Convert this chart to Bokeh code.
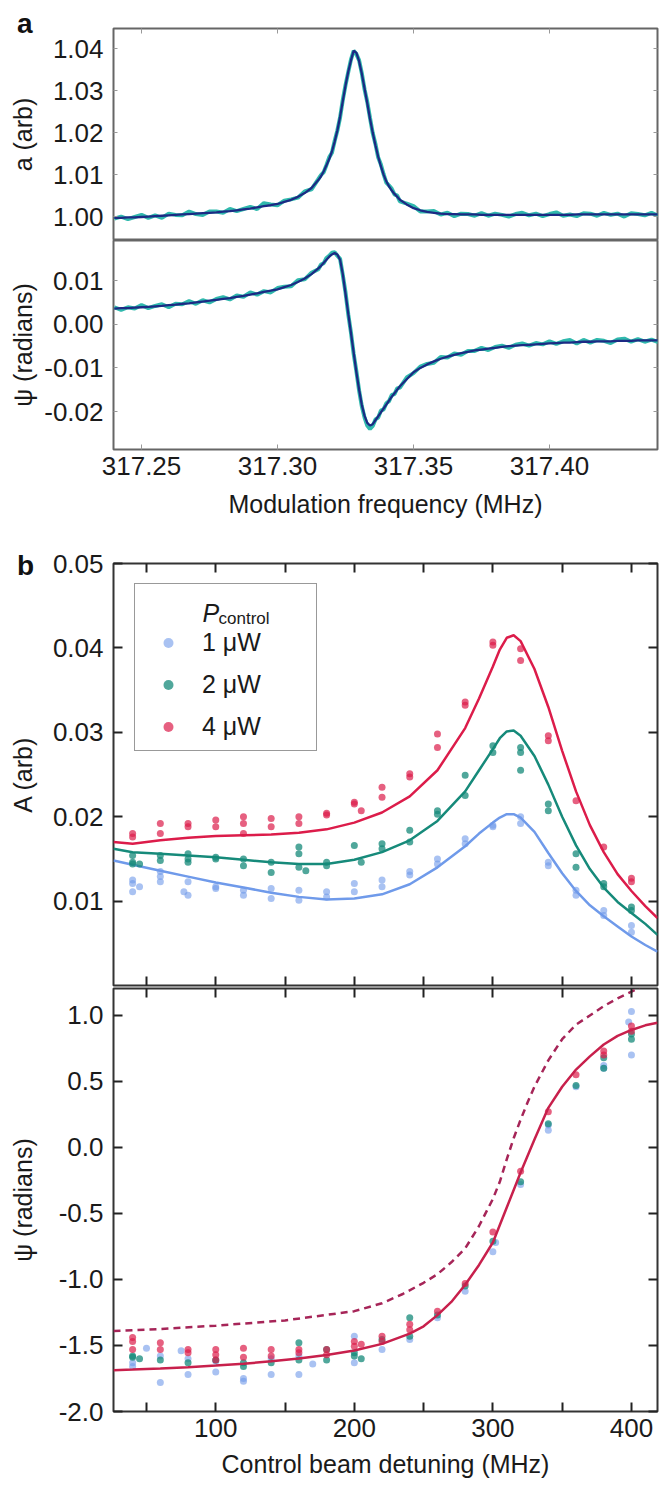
from bokeh.plotting import figure
from bokeh.layouts import column
from bokeh.models import (Range1d, FixedTicker, LinearAxis, Legend, Div,
                          LegendItem, NumeralTickFormatter)
from bokeh.embed import file_html
from bokeh.resources import INLINE
from bokeh.core.properties import value

# ---------------- panel a data ----------------
freq = [317.2400, 317.2425, 317.2450, 317.2475, 317.2500, 317.2525, 317.2550, 317.2575,
        317.2600, 317.2625, 317.2650, 317.2675, 317.2700, 317.2725, 317.2750, 317.2775,
        317.2800, 317.2825, 317.2850, 317.2875, 317.2900, 317.2925, 317.2950, 317.2975,
        317.3000, 317.3025, 317.3050, 317.3075, 317.3100, 317.3125, 317.3150,
        317.316, 317.317, 317.318, 317.319, 317.320, 317.321, 317.322, 317.323, 317.324,
        317.325, 317.326, 317.327, 317.328, 317.329, 317.330, 317.331, 317.332, 317.333,
        317.334, 317.335, 317.336, 317.337, 317.338, 317.339, 317.340, 317.341, 317.342,
        317.343, 317.344, 317.345,
        317.3475, 317.3500, 317.3525, 317.3550, 317.3575, 317.3600, 317.3625, 317.3650,
        317.3675, 317.3700, 317.3725, 317.3750, 317.3775, 317.3800, 317.3825, 317.3850,
        317.3875, 317.3900, 317.3925, 317.3950, 317.3975, 317.4000, 317.4025, 317.4050,
        317.4075, 317.4100, 317.4125, 317.4150, 317.4175, 317.4200, 317.4225, 317.4250,
        317.4275, 317.4300, 317.4325, 317.4350, 317.4375, 317.4400]

a_fit = [0.9997, 0.9997, 0.9998, 0.9998, 0.9999, 1.0000, 1.0001, 1.0002,
         1.0003, 1.0004, 1.0005, 1.0006, 1.0007, 1.0008, 1.0009, 1.0010,
         1.0012, 1.0013, 1.0015, 1.0017, 1.0019, 1.0022, 1.0025, 1.0027,
         1.0030, 1.0035, 1.0040, 1.0047, 1.0056, 1.0068, 1.0087,
         1.0096, 1.0108, 1.0122, 1.0137, 1.0155, 1.0178, 1.0205, 1.0238, 1.0275,
         1.0312, 1.0345, 1.0372, 1.0395, 1.0390, 1.0370, 1.0340, 1.0305, 1.0270,
         1.0233, 1.0200, 1.0170, 1.0143, 1.0120, 1.0100, 1.0084, 1.0072, 1.0062,
         1.0054, 1.0047, 1.0040,
         1.0029, 1.0020, 1.0015, 1.0011, 1.0009, 1.0007, 1.0006, 1.0006,
         1.0005, 1.0005, 1.0005, 1.0004, 1.0004, 1.0004, 1.0004, 1.0004,
         1.0004, 1.0004, 1.0004, 1.0004, 1.0004, 1.0004, 1.0004, 1.0004,
         1.0004, 1.0005, 1.0005, 1.0005, 1.0005, 1.0005, 1.0005, 1.0005,
         1.0005, 1.0005, 1.0005, 1.0005, 1.0005, 1.0005]

a_data = [0.9995, 1.0000, 0.9994, 0.9999, 1.0004, 0.9997, 1.0003, 0.9997,
          1.0007, 1.0004, 1.0003, 1.0012, 1.0006, 1.0004, 1.0012, 1.0012,
          1.0009, 1.0018, 1.0013, 1.0018, 1.0023, 1.0018, 1.0032, 1.0029,
          1.0027, 1.0038, 1.0041, 1.0045, 1.0060, 1.0065, 1.0089,
          1.0099, 1.0106, 1.0123, 1.0141, 1.0152, 1.0180, 1.0205, 1.0236, 1.0278,
          1.0313, 1.0344, 1.0374, 1.0395, 1.0387, 1.0372, 1.0341, 1.0303, 1.0273,
          1.0235, 1.0199, 1.0173, 1.0141, 1.0124, 1.0101, 1.0081, 1.0074, 1.0066,
          1.0053, 1.0050, 1.0036,
          1.0031, 1.0025, 1.0012, 1.0012, 1.0013, 1.0005, 1.0009, 1.0001,
          1.0007, 1.0006, 1.0002, 1.0008, 1.0002, 1.0007, 1.0004, 1.0000,
          1.0006, 1.0009, 1.0003, 1.0007, 1.0001, 1.0006, 1.0010, 1.0002,
          1.0005, 1.0001, 1.0008, 1.0007, 1.0002, 1.0009, 1.0004, 1.0007,
          1.0000, 1.0008, 1.0006, 1.0003, 1.0009, 1.0002]

psi_a_fit = [0.0036, 0.0037, 0.0037, 0.0038, 0.0039, 0.0040, 0.0041, 0.0042,
             0.0044, 0.0045, 0.0047, 0.0048, 0.0050, 0.0052, 0.0054, 0.0056,
             0.0058, 0.0060, 0.0063, 0.0065, 0.0068, 0.0071, 0.0074, 0.0077,
             0.0080, 0.0085, 0.0090, 0.0097, 0.0105, 0.0115, 0.0128,
             0.0134, 0.0141, 0.0148, 0.0155, 0.0160, 0.0163, 0.0160, 0.0148, 0.0115,
             0.0070, 0.0025, -0.0020, -0.0065, -0.0110, -0.0150, -0.0185, -0.0210, -0.0226,
             -0.0232, -0.0229, -0.0220, -0.0211, -0.0202, -0.0193, -0.0184, -0.0175, -0.0166,
             -0.0158, -0.0150, -0.0142,
             -0.0126, -0.0110, -0.0100, -0.0092, -0.0085, -0.0079, -0.0074, -0.0070,
             -0.0066, -0.0063, -0.0060, -0.0058, -0.0056, -0.0054, -0.0052, -0.0050,
             -0.0049, -0.0048, -0.0047, -0.0046, -0.0045, -0.0044, -0.0043, -0.0042,
             -0.0042, -0.0041, -0.0040, -0.0040, -0.0039, -0.0039, -0.0039, -0.0038,
             -0.0038, -0.0038, -0.0037, -0.0037, -0.0037, -0.0037]

psi_a_data = [0.0039, 0.0033, 0.0039, 0.0036, 0.0044, 0.0037, 0.0042, 0.0046,
              0.0039, 0.0047, 0.0046, 0.0053, 0.0047, 0.0055, 0.0050, 0.0058,
              0.0062, 0.0057, 0.0066, 0.0063, 0.0073, 0.0068, 0.0076, 0.0073,
              0.0083, 0.0086, 0.0087, 0.0101, 0.0103, 0.0118, 0.0126,
              0.0137, 0.0140, 0.0152, 0.0157, 0.0164, 0.0165, 0.0157, 0.0150, 0.0113,
              0.0073, 0.0023, -0.0019, -0.0068, -0.0108, -0.0152, -0.0188, -0.0214, -0.0232,
              -0.0240, -0.0233, -0.0218, -0.0214, -0.0198, -0.0195, -0.0181, -0.0176, -0.0162,
              -0.0160, -0.0147, -0.0145,
              -0.0122, -0.0112, -0.0097, -0.0091, -0.0088, -0.0075, -0.0076, -0.0067,
              -0.0070, -0.0061, -0.0061, -0.0054, -0.0059, -0.0052, -0.0049, -0.0054,
              -0.0047, -0.0044, -0.0049, -0.0043, -0.0046, -0.0039, -0.0045, -0.0039,
              -0.0036, -0.0044, -0.0036, -0.0042, -0.0036, -0.0038, -0.0043, -0.0035,
              -0.0033, -0.0040, -0.0034, -0.0040, -0.0035, -0.0041]

freq_ticks = [317.25, 317.30, 317.35, 317.40]
amp_ticks = [1.00, 1.01, 1.02, 1.03, 1.04]
psi_a_ticks = [-0.02, -0.01, 0.00, 0.01]

# ---------------- panel b data ----------------
det_fit = [26.2, 40, 60, 80, 100, 120, 140, 160, 180, 200, 220, 240, 260, 280, 290, 300,
           305, 310, 315, 320, 330, 340, 350, 360, 370, 380, 390, 400, 410, 418.8]
A_fit_1uW = [0.0148, 0.0143, 0.0136, 0.0129, 0.0122, 0.0116, 0.0110, 0.0105, 0.0102, 0.0103,
             0.0108, 0.0120, 0.0140, 0.0165, 0.0180, 0.0193, 0.0199, 0.0203, 0.0203, 0.0199,
             0.0182, 0.0157, 0.0133, 0.0112, 0.0095, 0.0082, 0.0070, 0.0058, 0.0048, 0.0040]
A_fit_2uW = [0.0162, 0.0158, 0.0156, 0.0154, 0.0152, 0.0149, 0.0146, 0.0144, 0.0144, 0.0149,
             0.0158, 0.0172, 0.0195, 0.0230, 0.0255, 0.0280, 0.0293, 0.0301, 0.0302, 0.0296,
             0.0272, 0.0238, 0.0200, 0.0166, 0.0138, 0.0116, 0.0099, 0.0086, 0.0073, 0.0060]
A_fit_4uW = [0.0170, 0.0168, 0.0172, 0.0175, 0.0177, 0.0178, 0.0179, 0.0181, 0.0185, 0.0193,
             0.0205, 0.0224, 0.0255, 0.0305, 0.0340, 0.0378, 0.0398, 0.0412, 0.0415, 0.0408,
             0.0375, 0.0330, 0.0278, 0.0230, 0.0190, 0.0158, 0.0132, 0.0112, 0.0094, 0.0080]

det_psi_fit = [26.2, 40, 60, 80, 100, 120, 140, 160, 180, 200, 220, 240, 250, 260, 270, 280,
               290, 300, 310, 320, 330, 340, 350, 360, 370, 380, 390, 400, 410, 418.8]
psi_fit = [-1.687, -1.682, -1.674, -1.664, -1.652, -1.638, -1.620, -1.598, -1.572, -1.538,
           -1.488, -1.410, -1.355, -1.270, -1.170, -1.040, -0.890, -0.720, -0.455, -0.190,
           0.060, 0.300, 0.460, 0.590, 0.690, 0.780, 0.845, 0.890, 0.925, 0.945]
det_psi_dash = [26.2, 60, 100, 150, 200, 220, 235, 250, 260, 270, 280, 290, 300, 305, 310,
                315, 320, 325, 330, 340, 350, 360, 370, 380, 390, 400, 406]
psi_dash = [-1.390, -1.375, -1.350, -1.310, -1.240, -1.180, -1.110, -1.025, -0.960, -0.870,
            -0.765, -0.595, -0.390, -0.260, -0.090, 0.070, 0.210, 0.340, 0.460, 0.660,
            0.820, 0.930, 1.000, 1.070, 1.130, 1.180, 1.210]

det_A_1uW = [40, 40, 40, 45, 60, 60, 60, 77, 80, 80, 100, 100, 120, 120, 140, 140, 160, 160,
             180, 180, 200, 200, 220, 220, 240, 240, 260, 260, 280, 280, 300, 300, 320, 320,
             340, 340, 360, 360, 380, 380, 400, 400]
A_1uW = [0.0125, 0.0121, 0.0111, 0.0117, 0.0135, 0.0129, 0.0123, 0.0111, 0.0123, 0.0107,
         0.0117, 0.0115, 0.0113, 0.0107, 0.0115, 0.0103, 0.0113, 0.0101, 0.0111, 0.0105,
         0.0121, 0.0111, 0.0125, 0.0117, 0.0135, 0.0131, 0.0150, 0.0144, 0.0174, 0.0168,
         0.0190, 0.0188, 0.0200, 0.0192, 0.0146, 0.0142, 0.0113, 0.0107, 0.0089, 0.0083,
         0.0071, 0.0063]
det_A_2uW = [40, 40, 40, 45, 60, 60, 80, 80, 80, 100, 100, 120, 120, 140, 140, 160, 160, 160,
             165, 180, 180, 200, 205, 220, 220, 240, 240, 260, 260, 280, 280, 300, 300, 320,
             320, 320, 340, 340, 360, 360, 380, 380, 400, 400]
A_2uW = [0.0154, 0.0146, 0.0144, 0.0144, 0.0154, 0.0148, 0.0156, 0.0150, 0.0146, 0.0152,
         0.0150, 0.0150, 0.0142, 0.0146, 0.0134, 0.0164, 0.0156, 0.0140, 0.0136, 0.0146,
         0.0142, 0.0166, 0.0146, 0.0168, 0.0162, 0.0184, 0.0170, 0.0207, 0.0203, 0.0249,
         0.0225, 0.0284, 0.0276, 0.0282, 0.0276, 0.0255, 0.0215, 0.0207, 0.0156, 0.0140,
         0.0121, 0.0117, 0.0093, 0.0089]
det_A_4uW = [40, 40, 60, 60, 80, 80, 100, 100, 120, 120, 120, 140, 140, 160, 160, 180, 180,
             200, 200, 205, 220, 220, 240, 240, 260, 260, 280, 280, 300, 300, 320, 320, 340,
             340, 360, 380, 400, 400]
A_4uW = [0.0180, 0.0176, 0.0192, 0.0180, 0.0192, 0.0188, 0.0196, 0.0188, 0.0200, 0.0192,
         0.0180, 0.0198, 0.0188, 0.0200, 0.0192, 0.0204, 0.0202, 0.0217, 0.0215, 0.0207,
         0.0235, 0.0223, 0.0251, 0.0247, 0.0298, 0.0282, 0.0336, 0.0332, 0.0407, 0.0403,
         0.0399, 0.0385, 0.0296, 0.0290, 0.0219, 0.0164, 0.0127, 0.0123]

det_psi_1uW = [40, 40, 50, 60, 60, 75, 80, 80, 100, 100, 120, 120, 140, 140, 160, 160, 170,
               200, 200, 220, 240, 260, 280, 300, 302, 320, 340, 340, 360, 380, 380, 400, 400,
               398]
psi_1uW = [-1.63, -1.66, -1.52, -1.78, -1.58, -1.54, -1.72, -1.60, -1.70, -1.62, -1.75, -1.77,
           -1.72, -1.60, -1.72, -1.58, -1.64, -1.43, -1.63, -1.53, -1.455, -1.29, -1.09, -0.79,
           -0.72, -0.28, 0.13, 0.17, 0.46, 0.60, 0.62, 1.03, 0.70, 0.95]
det_psi_2uW = [40, 40, 45, 60, 80, 100, 120, 120, 140, 160, 160, 180, 180, 200, 200, 205, 220,
               240, 240, 260, 280, 300, 320, 340, 360, 380, 380, 400, 400]
psi_2uW = [-1.58, -1.59, -1.60, -1.61, -1.63, -1.61, -1.63, -1.66, -1.63, -1.48, -1.61, -1.53,
           -1.61, -1.555, -1.58, -1.60, -1.455, -1.29, -1.43, -1.27, -1.05, -0.71, -0.26, 0.18,
           0.47, 0.68, 0.60, 0.86, 0.82]
det_psi_4uW = [40, 40, 40, 60, 60, 80, 80, 100, 100, 100, 120, 120, 140, 140, 160, 160, 180,
               180, 200, 200, 205, 220, 220, 240, 240, 260, 280, 300, 320, 340, 360, 380, 380,
               400, 400]
psi_4uW = [-1.44, -1.47, -1.53, -1.48, -1.53, -1.53, -1.555, -1.53, -1.57, -1.61, -1.52, -1.59,
           -1.53, -1.58, -1.53, -1.555, -1.53, -1.57, -1.47, -1.505, -1.49, -1.43, -1.47, -1.34,
           -1.38, -1.24, -1.03, -0.64, -0.18, 0.27, 0.55, 0.73, 0.70, 0.92, 0.88]

det_ticks = [50, 100, 150, 200, 250, 300, 350, 400]
det_labels = {50: "", 100: "100", 150: "", 200: "200", 250: "", 300: "300", 350: "", 400: "400"}
A_ticks = [0.01, 0.02, 0.03, 0.04, 0.05]
psi_b_ticks = [-2.0, -1.5, -1.0, -0.5, 0.0, 0.5, 1.0]
legend_labels = ["1 μW", "2 μW", "4 μW"]
panel_letters = ["a", "b"]

# ---------------- styling ----------------
FONT = "Liberation Sans"
TXT = "#1a1a1a"
W = 659
C_CYAN = "#30b9ad"
C_NAVY = "#1c2a84"
C_BLUE = "#6f9aea"
C_TEAL = "#168a7a"
C_RED = "#dc1c4a"
C_PSI = "#c8204c"
C_DASH = "#a62558"
TICK_A = "#999999"


def base_fig(height, xr, yr, top, bottom, outline):
    p = figure(width=W, height=height, x_range=Range1d(*xr), y_range=Range1d(*yr),
               output_backend="svg", toolbar_location=None,
               x_axis_location=None, y_axis_location=None,
               min_border_left=113, min_border_right=2,
               min_border_top=top, min_border_bottom=bottom)
    p.grid.visible = False
    p.outline_line_color = outline
    p.outline_line_width = 2
    p.background_fill_color = "white"
    p.border_fill_color = "white"
    return p


def add_axis(p, side, ticks, show, tick_len, tick_color, tick_w, fmt=None,
             overrides=None, label=None, label_standoff=10, axis_standoff=10):
    ax = LinearAxis(ticker=FixedTicker(ticks=ticks))
    ax.axis_line_color = None
    ax.major_tick_in = tick_len
    ax.major_tick_out = 0
    ax.minor_tick_in = 0
    ax.minor_tick_out = 0
    ax.major_tick_line_color = tick_color
    ax.major_tick_line_width = tick_w
    if show:
        ax.major_label_text_font = FONT
        ax.major_label_text_font_size = "26px"
        ax.major_label_text_color = TXT
        ax.major_label_standoff = label_standoff
        if fmt:
            ax.formatter = NumeralTickFormatter(format=fmt)
        if overrides:
            ax.major_label_overrides = overrides
    else:
        ax.major_label_overrides = {t: "" for t in ticks}
        ax.major_label_text_font_size = "1px"
        ax.major_label_standoff = 0
    if label:
        ax.axis_label = label
        ax.axis_label_text_font = FONT
        ax.axis_label_text_font_size = "25px"
        ax.axis_label_text_font_style = "normal"
        ax.axis_label_text_color = TXT
        ax.axis_label_standoff = axis_standoff
    p.add_layout(ax, side)
    return ax


XR_A = (317.2397, 317.4397)
XR_B = (26.2, 418.8)

# ---- panel a, amplitude ----
p1 = base_fig(240, XR_A, (0.9943, 1.0448), 28, 0, "#666666")
add_axis(p1, "left", amp_ticks, True, 4, TICK_A, 1, fmt="0.00",
         label="a (arb)", axis_standoff=13)
add_axis(p1, "right", amp_ticks, False, 4, TICK_A, 1)
add_axis(p1, "above", freq_ticks, False, 5, TICK_A, 1)
p1.line(freq, a_data, line_color=C_CYAN, line_width=4)
p1.line(freq, a_fit, line_color=C_NAVY, line_width=2.3)

# ---- panel a, phase ----
p2 = base_fig(290, XR_A, (-0.0287, 0.0192), 0, 81, "#666666")
add_axis(p2, "left", psi_a_ticks, True, 4, TICK_A, 1, fmt="0.00",
         label="ψ (radians)", axis_standoff=4)
add_axis(p2, "right", psi_a_ticks, False, 4, TICK_A, 1)
add_axis(p2, "below", freq_ticks, True, 5, TICK_A, 1, fmt="0.00",
         label="Modulation frequency (MHz)", label_standoff=7, axis_standoff=12)
p2.line(freq, psi_a_data, line_color=C_CYAN, line_width=4)
p2.line(freq, psi_a_fit, line_color=C_NAVY, line_width=2.3)

# ---- panel b, amplitude ----
p3 = base_fig(457, XR_B, (0.0, 0.05), 33, 2, "#333333")
add_axis(p3, "left", A_ticks, True, 9, "#222222", 2, fmt="0.00",
         label="A (arb)", axis_standoff=13)
add_axis(p3, "right", A_ticks, False, 9, "#222222", 2)
add_axis(p3, "above", det_ticks, False, 9, "#222222", 2)
add_axis(p3, "below", det_ticks, False, 9, "#222222", 2)
p3.line(det_fit, A_fit_1uW, line_color=C_BLUE, line_width=2.5)
p3.line(det_fit, A_fit_2uW, line_color=C_TEAL, line_width=2.5)
p3.line(det_fit, A_fit_4uW, line_color=C_RED, line_width=2.5)
r1 = p3.scatter(det_A_1uW, A_1uW, size=7, fill_color=C_BLUE, line_color=None, fill_alpha=0.6)
r2 = p3.scatter(det_A_2uW, A_2uW, size=7, fill_color=C_TEAL, line_color=None, fill_alpha=0.75)
r4 = p3.scatter(det_A_4uW, A_4uW, size=7, fill_color=C_RED, line_color=None, fill_alpha=0.7)

p3.text(x=[90.4], y=[0.04408], text=["P"], text_font=value(FONT), text_font_size="25px",
        text_font_style="italic", text_color=TXT, text_baseline="alphabetic")
p3.text(x=[102.0], y=[0.04348], text=["control"], text_font=value(FONT),
        text_font_size="17px", text_color=TXT, text_baseline="alphabetic")

legend = Legend(items=[LegendItem(label=legend_labels[0], renderers=[r1]),
                       LegendItem(label=legend_labels[1], renderers=[r2]),
                       LegendItem(label=legend_labels[2], renderers=[r4])],
                location=(21, 234), title=" ", title_text_font_size="20px",
                title_standoff=12, padding=9, spacing=13, margin=0,
                label_text_font=FONT, label_text_font_size="25px", label_text_color=TXT,
                label_height=25, glyph_height=25, glyph_width=48, label_standoff=10,
                label_width=105, border_line_color="#333333", border_line_width=1.5,
                background_fill_alpha=0.0)
p3.add_layout(legend)

# ---- panel b, phase ----
p4 = base_fig(493, XR_B, (-2.0, 1.204), 1, 68, "#333333")
add_axis(p4, "left", psi_b_ticks, True, 9, "#222222", 2, fmt="0.0",
         label="ψ (radians)", axis_standoff=19)
add_axis(p4, "right", psi_b_ticks, False, 9, "#222222", 2)
add_axis(p4, "above", det_ticks, False, 9, "#222222", 2)
add_axis(p4, "below", det_ticks, True, 9, "#222222", 2, overrides=det_labels,
         label="Control beam detuning (MHz)", label_standoff=7, axis_standoff=10)
p4.scatter(det_psi_1uW, psi_1uW, size=7, fill_color=C_BLUE, line_color=None, fill_alpha=0.6)
p4.scatter(det_psi_2uW, psi_2uW, size=7, fill_color=C_TEAL, line_color=None, fill_alpha=0.75)
p4.scatter(det_psi_4uW, psi_4uW, size=7, fill_color=C_RED, line_color=None, fill_alpha=0.7)
p4.line(det_psi_dash, psi_dash, line_color=C_DASH, line_width=2.5, line_dash="7 5")
p4.line(det_psi_fit, psi_fit, line_color=C_PSI, line_width=2.5)


def letter_div(txt, top):
    return Div(text=txt, width=30, height=2,
               styles={"position": "absolute", "left": "12px", "top": f"{top}px",
                       "font-family": FONT, "font-size": "28px", "font-weight": "bold",
                       "line-height": "28px", "color": "#111111", "overflow": "visible",
                       "z-index": "10"})


div_a = letter_div(panel_letters[0], 5)
div_b = letter_div(panel_letters[1], 547)

layout = column(p1, p2, p3, p4, div_a, div_b, spacing=0)
open("out.html", "w").write(file_html(layout, INLINE))
